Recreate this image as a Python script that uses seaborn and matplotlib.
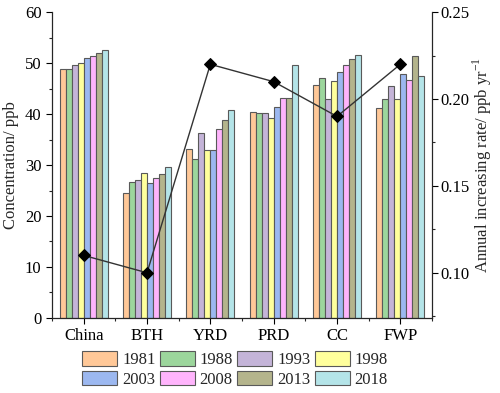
import pandas as pd
import matplotlib
matplotlib.use("Agg")
import matplotlib.pyplot as plt
import seaborn as sns
from matplotlib.ticker import MultipleLocator

regions = ["China", "BTH", "YRD", "PRD", "CC", "FWP"]
years = ["1981", "1988", "1993", "1998", "2003", "2008", "2013", "2018"]

# concentration (ppb), one list per region, in order of years
china = [48.9, 48.9, 49.6, 50.0, 51.0, 51.4, 51.9, 52.5]
bth = [24.6, 26.7, 27.1, 28.4, 26.5, 27.5, 28.2, 29.6]
yrd = [33.1, 31.1, 36.2, 32.9, 33.0, 37.0, 38.8, 40.8]
prd = [40.4, 40.2, 40.2, 39.3, 41.4, 43.2, 43.2, 49.7]
cc = [45.8, 47.0, 42.9, 46.4, 48.2, 49.7, 50.9, 51.6]
fwp = [41.1, 42.9, 45.5, 43.0, 47.9, 46.6, 51.4, 47.5]

# annual increasing rate (ppb/yr)
rate = [0.11, 0.10, 0.22, 0.21, 0.19, 0.22]

colors = ["#FFC898", "#9CD69C", "#C4B4D8", "#FFFF9C", "#9CB8F0",
          "#FFB4FC", "#B4B48C", "#B4E4E8"]

rows = []
for reg, vals in zip(regions, [china, bth, yrd, prd, cc, fwp]):
    for yr, v in zip(years, vals):
        rows.append({"Region": reg, "Year": yr, "Conc": v})
df = pd.DataFrame(rows)
df_rate = pd.DataFrame({"Region": regions, "Rate": rate})

sns.set_style("ticks")
plt.rcParams["font.family"] = ["Liberation Serif", "DejaVu Serif"]
plt.rcParams["mathtext.fontset"] = "custom"
plt.rcParams["mathtext.rm"] = "Liberation Serif"

fig = plt.figure(figsize=(5, 3.93), dpi=100)
ax = fig.add_axes([0.104, 0.191, 0.76, 0.778])

sns.barplot(
    data=df, x="Region", y="Conc", hue="Year",
    palette=colors, saturation=1, width=0.76, gap=0,
    edgecolor="#595959", linewidth=0.8, ax=ax, legend=True
)
ax.set_xlim(-0.5, 5.5)
ax.set_ylim(0, 60)
ax.yaxis.set_major_locator(MultipleLocator(10))
ax.yaxis.set_minor_locator(MultipleLocator(5))
ax.set_xticks(range(6))
ax.set_xticks([i + 0.5 for i in range(-1, 6)], minor=True)
ax.set_xlabel("")
ax.set_ylabel("Concentration/ ppb", fontsize=12)
ax.tick_params(labelsize=12, direction="out", length=4, width=0.8, colors="black")
ax.tick_params(which="minor", length=2.5, width=0.8)
for s in ["left", "bottom", "right"]:
    ax.spines[s].set_linewidth(0.8)
    ax.spines[s].set_color("black")
ax.spines["top"].set_visible(False)

# legend laid out row by row (matplotlib fills columns first)
handles, labels = ax.get_legend_handles_labels()
ax.get_legend().remove()
order = [0, 4, 1, 5, 2, 6, 3, 7]
fig.legend(
    [handles[i] for i in order], [labels[i] for i in order],
    ncol=4, frameon=False, fontsize=12,
    loc="center", bbox_to_anchor=(0.47, 0.06),
    handlelength=2.1, handleheight=0.95, handletextpad=0.3,
    columnspacing=0.25, labelspacing=0.15
)

ax2 = ax.twinx()
sns.pointplot(
    data=df_rate, x="Region", y="Rate", color="#333333",
    markers="D", linestyles="-", linewidth=1, markersize=6.5,
    ax=ax2
)
for line in ax2.lines:
    line.set_markerfacecolor("black")
    line.set_markeredgecolor("black")
ax2.set_xlim(-0.5, 5.5)
ax2.yaxis.set_minor_locator(MultipleLocator(0.025))
ax2.set_yticks([0.10, 0.15, 0.20, 0.25])
ax2.set_yticklabels(["0.10", "0.15", "0.20", "0.25"])
ax2.set_ylim(0.074, 0.25)
ax2.set_ylabel(r"Annual increasing rate/ ppb yr$^{\mathregular{-1}}$",
               fontsize=12, labelpad=1)
ax2.set_xlabel("")
ax2.tick_params(labelsize=12, direction="out", length=4, width=0.8,
                colors="black", pad=2)
ax2.tick_params(which="minor", length=2.5, width=0.8)
for s in ax2.spines.values():
    s.set_linewidth(0.8)
ax2.spines["top"].set_visible(False)

fig.savefig("out.png", dpi=100)
